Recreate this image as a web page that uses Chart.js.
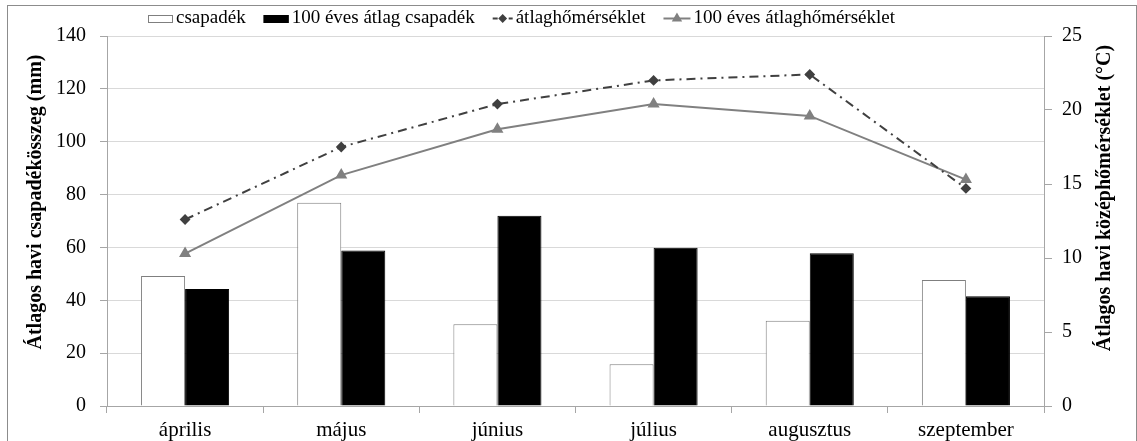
<!DOCTYPE html>
<html>
<head>
<meta charset="utf-8">
<script src="https://cdn.jsdelivr.net/npm/chart.js@4/dist/chart.umd.min.js"></script>
<style>
  html, body { margin: 0; padding: 0; background: #fff; font-family: "Liberation Serif", serif; }
  #wrap { width: 1137px; height: 441px; }
</style>
</head>
<body>
<div id="wrap"><canvas id="chart"></canvas></div>
<script>
const months = ['április', 'május', 'június', 'július', 'augusztus', 'szeptember'];
// csapadék (mm)
const rain = [49.2, 76.9, 30.9, 15.8, 32.3, 47.7];
const rainAvg100 = [44.3, 58.8, 72.0, 59.9, 57.8, 41.5];
// hőmérséklet (°C)
const temp = [12.6, 17.5, 20.4, 22.0, 22.4, 14.7];
const tempAvg100 = [10.3, 15.6, 18.7, 20.4, 19.6, 15.3];

const leftTitle = 'Átlagos havi csapadékösszeg (mm)';
const rightTitle = 'Átlagos havi középhőmérséklet (°C)';

const FONT = '"Liberation Serif", "Times New Roman", "DejaVu Serif", serif';
const AXIS = '#a6a6a6';
Chart.defaults.font.family = FONT;

/**
 * outer frame of the picture
 */
const framePlugin = {
    id: 'frame',
    beforeDraw(chart) {
        const ctx = chart.ctx;
        ctx.save();
        ctx.strokeStyle = '#8c8c8c';
        ctx.lineWidth = 1;
        ctx.strokeRect(7.5, 5.5, chart.width - 8, chart.height + 10);
        ctx.restore();
    }
};

/**
 * draws the legend row on top and both rotated axis titles
 */
const decorPlugin = {
    id: 'decor',
    afterDraw(chart) {
        const ctx = chart.ctx;
        ctx.save();
        ctx.font = '19px ' + FONT;
        ctx.textBaseline = 'middle';
        ctx.fillStyle = '#000';
        const y = 18;
        let x = 148;
        chart.data.datasets.forEach((ds) => {
            let w;
            if (ds.type === 'line') {
                w = ds.borderDash ? 20 : 27;
                ctx.save();
                ctx.strokeStyle = ds.borderColor;
                ctx.lineWidth = 2;
                ctx.setLineDash(ds.borderDash ? [5, 3] : []);
                ctx.beginPath();
                ctx.moveTo(x, y + 0.5);
                ctx.lineTo(x + w, y + 0.5);
                ctx.stroke();
                ctx.setLineDash([]);
                ctx.fillStyle = ds.pointBackgroundColor;
                ctx.strokeStyle = ds.pointBackgroundColor;
                Chart.helpers.drawPoint(ctx, {
                    pointStyle: ds.pointStyle,
                    radius: ds.pointRadius - 1,
                    rotation: 0,
                    borderWidth: 1
                }, x + w / 2, y + 0.5);
                ctx.restore();
            } else {
                w = 25;
                ctx.fillStyle = ds.backgroundColor;
                ctx.fillRect(x, y - 3, w, 8);
                ctx.strokeStyle = ds.borderColor;
                ctx.lineWidth = 1;
                ctx.strokeRect(x + 0.5, y - 2.5, w - 1, 7);
            }
            x += w + 3;
            ctx.fillStyle = '#000';
            ctx.fillText(ds.label, x, y);
            x += ctx.measureText(ds.label).width + 18;
        });

        ctx.font = 'bold 20px ' + FONT;
        ctx.textAlign = 'center';
        ctx.translate(36, 202);
        ctx.rotate(-Math.PI / 2);
        ctx.fillText(leftTitle, 0, 0);
        ctx.rotate(Math.PI / 2);
        ctx.translate(1105 - 36, 198 - 202);
        ctx.rotate(-Math.PI / 2);
        ctx.fillText(rightTitle, 0, 0);
        ctx.restore();
    }
};

const ctx = document.getElementById('chart').getContext('2d');
const chart = new Chart(ctx, {
    data: {
        labels: months,
        datasets: [{
            type: 'bar',
            label: 'csapadék',
            data: rain,
            backgroundColor: '#ffffff',
            borderColor: '#7f7f7f',
            borderWidth: 1,
            categoryPercentage: 0.564,
            barPercentage: 1.0,
            yAxisID: 'y',
            order: 2
        }, {
            type: 'bar',
            label: '100 éves átlag csapadék',
            data: rainAvg100,
            backgroundColor: '#000000',
            borderColor: '#000000',
            borderWidth: 1,
            categoryPercentage: 0.564,
            barPercentage: 1.0,
            yAxisID: 'y',
            order: 2
        }, {
            type: 'line',
            label: 'átlaghőmérséklet',
            data: temp,
            borderColor: '#404040',
            borderWidth: 2,
            borderDash: [9, 5, 2, 5],
            pointStyle: 'rectRot',
            pointRadius: 4,
            pointBackgroundColor: '#404040',
            pointBorderColor: '#404040',
            tension: 0,
            yAxisID: 'y1',
            order: 0
        }, {
            type: 'line',
            label: '100 éves átlaghőmérséklet',
            data: tempAvg100,
            borderColor: '#808080',
            borderWidth: 2,
            pointStyle: 'triangle',
            pointRadius: 5,
            pointBackgroundColor: '#808080',
            pointBorderColor: '#808080',
            tension: 0,
            yAxisID: 'y1',
            order: 1
        }]
    },
    options: {
        responsive: true,
        maintainAspectRatio: false,
        animation: false,
        layout: {
            padding: { top: 36, left: 0, right: 0, bottom: 0 }
        },
        plugins: {
            legend: { display: false },
            tooltip: { enabled: false }
        },
        scales: {
            x: {
                offset: true,
                grid: {
                    offset: true,
                    drawOnChartArea: false,
                    drawTicks: true,
                    tickLength: 7,
                    tickColor: AXIS
                },
                border: { color: AXIS },
                ticks: {
                    color: '#000',
                    font: { family: FONT, size: 21 },
                    padding: 5,
                    maxRotation: 0,
                    autoSkip: false
                },
                afterFit(scale) { scale.height = 35; }
            },
            y: {
                position: 'left',
                min: 0,
                max: 140,
                grid: {
                    color: '#d9d9d9',
                    tickColor: AXIS,
                    tickLength: 7
                },
                border: { color: AXIS },
                ticks: {
                    stepSize: 20,
                    color: '#000',
                    font: { family: FONT, size: 20 },
                    padding: 14
                },
                afterFit(scale) { scale.width = 107; }
            },
            y1: {
                position: 'right',
                min: 0,
                max: 25,
                grid: {
                    drawOnChartArea: false,
                    tickColor: AXIS,
                    tickLength: 8
                },
                border: { color: AXIS },
                ticks: {
                    stepSize: 5,
                    color: '#000',
                    font: { family: FONT, size: 20 },
                    padding: 10
                },
                afterFit(scale) { scale.width = 93; }
            }
        }
    },
    plugins: [framePlugin, decorPlugin]
});
</script>
</body>
</html>
